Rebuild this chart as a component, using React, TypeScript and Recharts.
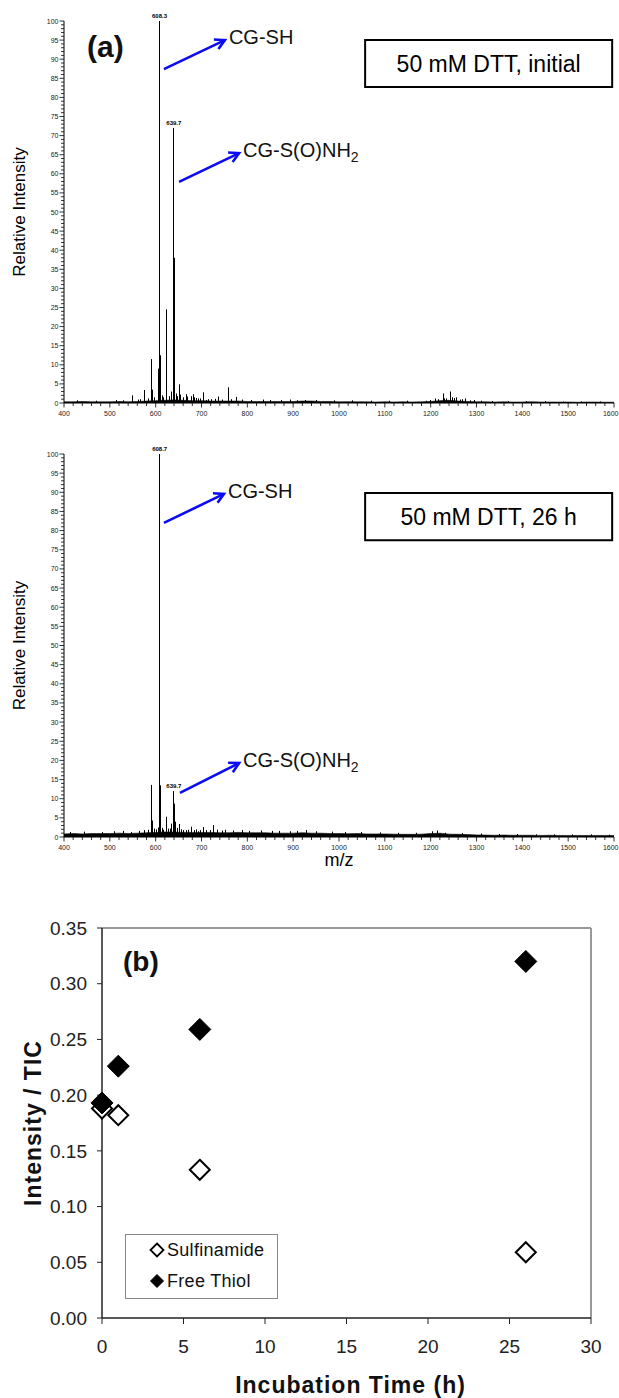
import React from "react";
import {
  ComposedChart,
  Bar,
  Area,
  XAxis,
  YAxis,
  ReferenceLine,
  ReferenceArea,
  LabelList,
  ScatterChart,
  Scatter,
  Legend,
} from "recharts";

const FONT = "Arial, 'Liberation Sans', sans-serif";

// ---- spectra (panel a) ----
const mzTickLabels = [400, 500, 600, 700, 800, 900, 1000, 1100, 1200, 1300, 1400, 1500, 1600];
const mzTicks = Array.from({ length: 61 }, (_, i) => 400 + i * 20);
const intensityTickLabels = [0, 5, 10, 15, 20, 25, 30, 35, 40, 45, 50, 55, 60, 65, 70, 75, 80, 85, 90, 95, 100];
const intensityTicks = Array.from({ length: 101 }, (_, i) => i);

// baseline noise, [m/z, relative intensity]
const initialBaseline: [number, number][] = [
  [400, 0.3], [420, 0.3], [440, 0.4], [460, 0.3], [480, 0.3], [500, 0.3], [520, 0.4], [540, 0.3],
  [560, 0.4], [580, 0.5], [600, 0.6], [620, 0.7], [640, 0.8], [660, 0.7], [680, 0.6], [700, 0.6],
  [720, 0.5], [740, 0.5], [760, 0.5], [780, 0.5], [800, 0.4], [820, 0.4], [840, 0.4], [860, 0.4],
  [880, 0.4], [900, 0.4], [920, 0.5], [940, 0.5], [960, 0.4], [980, 0.4], [1000, 0.3], [1020, 0.35],
  [1040, 0.3], [1060, 0.3], [1080, 0.25], [1100, 0.3], [1120, 0.25], [1140, 0.3], [1160, 0.25], [1180, 0.3],
  [1200, 0.4], [1220, 0.6], [1240, 0.7], [1260, 0.5], [1280, 0.4], [1300, 0.3], [1320, 0.3], [1340, 0.25],
  [1360, 0.3], [1380, 0.25], [1400, 0.25], [1420, 0.3], [1440, 0.25], [1460, 0.25], [1480, 0.25], [1500, 0.25],
  [1520, 0.2], [1540, 0.25], [1560, 0.25], [1580, 0.2], [1600, 0.2],
];
const initialPeaks: [number, number][] = [
  [430, 0.7], [470, 0.6], [515, 0.8], [530, 0.7], [550, 2.0], [563, 0.9], [568, 1.0], [575, 3.4],
  [584, 1.2], [591.3, 11.5], [592.7, 3.5], [597, 1.5], [605.8, 9.0], [608.3, 100], [610.3, 12.5],
  [614, 2.0], [618, 1.5], [623.3, 24.5], [624.7, 3.0], [630, 1.8], [635, 3.0], [639.7, 72],
  [640.7, 38], [641.7, 17.5], [646, 2.5], [648, 1.8], [651.6, 4.9], [654.6, 2.2], [660.4, 1.5],
  [666.2, 2.3], [669.9, 1.7], [678.6, 1.8], [682.2, 2.3], [685.8, 1.5], [690, 1.3], [693, 1.2],
  [698, 1.2], [704, 2.8], [711.3, 0.8], [715, 1.0], [722.2, 1.0], [730, 1.1], [736.7, 1.7],
  [745, 0.9], [758.5, 4.1], [765, 1.0], [775.3, 1.6], [790, 0.9], [810, 0.8], [835, 0.9],
  [850, 0.8], [875, 0.8], [895, 0.9], [910, 0.7], [927, 0.8], [950, 0.8], [990, 0.7], [1030, 0.7],
  [1070, 0.6], [1110, 0.6], [1150, 0.6], [1190, 0.6], [1198.6, 0.8], [1209.5, 1.2], [1216.8, 1.0],
  [1227.6, 2.5], [1230, 1.2], [1235, 1.2], [1242.9, 3.0], [1246.6, 1.5], [1252, 1.3], [1256.8, 1.5],
  [1265, 0.9], [1270, 1.0], [1275, 1.2], [1285.9, 0.7], [1295, 0.8], [1310, 0.6], [1335, 0.5],
  [1370, 0.5], [1410, 0.5], [1450, 0.5], [1490, 0.4], [1530, 0.4], [1570, 0.4],
];
const initialTags: [number, string][] = [[608.3, "608.3"], [639.7, "639.7"]];

const dtt26hBaseline: [number, number][] = [
  [400, 0.8], [420, 0.9], [440, 0.8], [460, 0.9], [480, 0.9], [500, 0.9], [520, 1.0], [540, 0.9],
  [560, 1.0], [580, 1.1], [600, 1.2], [620, 1.3], [640, 1.3], [660, 1.2], [680, 1.2], [700, 1.2],
  [720, 1.2], [740, 1.1], [760, 1.1], [780, 1.2], [800, 1.1], [820, 1.1], [840, 1.1], [860, 1.0],
  [880, 1.0], [900, 1.0], [920, 1.1], [940, 1.0], [960, 1.0], [980, 0.9], [1000, 0.9], [1020, 0.85],
  [1040, 0.9], [1060, 0.8], [1080, 0.8], [1100, 0.8], [1120, 0.75], [1140, 0.7], [1160, 0.7], [1180, 0.75],
  [1200, 0.9], [1220, 1.0], [1240, 0.75], [1260, 0.7], [1280, 0.65], [1300, 0.55], [1320, 0.5], [1340, 0.45],
  [1360, 0.5], [1380, 0.45], [1400, 0.45], [1420, 0.45], [1440, 0.4], [1460, 0.45], [1480, 0.4], [1500, 0.4],
  [1520, 0.4], [1540, 0.4], [1560, 0.4], [1580, 0.4], [1600, 0.4],
];
const dtt26hPeaks: [number, number][] = [
  [415, 1.3], [445, 1.4], [485, 1.3], [510, 1.5], [529, 1.6], [547.7, 1.3], [565, 1.6], [575, 1.8],
  [585, 1.9], [591.3, 13.6], [592.7, 4.3], [598, 2.2], [602, 2.0], [606.5, 2.5], [608.7, 100],
  [610.2, 13.5], [615, 2.4], [618, 1.9], [622.6, 5.3], [628.4, 2.2], [632, 2.2], [635, 3.5],
  [639.7, 12.0], [640.8, 8.7], [642.5, 4.0], [647, 2.4], [651.6, 3.4], [656, 2.0], [660.4, 1.8],
  [667.7, 1.8], [672, 1.9], [678.6, 2.7], [685.8, 1.8], [690, 2.0], [693, 1.5], [698, 1.8],
  [704, 2.6], [711, 1.8], [718.6, 1.8], [725.8, 3.1], [735, 1.9], [745, 1.7], [752, 1.9], [770, 1.7],
  [790, 1.8], [805, 1.6], [830, 1.7], [855, 1.6], [870, 1.6], [895, 1.5], [910, 1.6], [929, 1.8],
  [950, 1.5], [985, 1.4], [1015, 1.3], [1050, 1.3], [1090, 1.2], [1130, 1.1], [1170, 1.1],
  [1205, 1.5], [1216, 1.7], [1232, 1.1], [1270, 1.0], [1310, 0.9], [1350, 0.8], [1390, 0.8],
  [1430, 0.7], [1470, 0.7], [1510, 0.7], [1550, 0.7], [1590, 0.6],
];
const dtt26hTags: [number, string][] = [[608.7, "608.7"], [639.7, "639.7"]];

// annotation arrows (data coordinates) and condition boxes
const initialArrows = [
  { x1: 618, y1: 87.4, x2: 751, y2: 95.0, text: "CG-SH", sub: "" },
  { x1: 651, y1: 57.9, x2: 782, y2: 65.4, text: "CG-S(O)NH", sub: "2" },
];
const dtt26hArrows = [
  { x1: 618, y1: 82.0, x2: 749, y2: 89.6, text: "CG-SH", sub: "" },
  { x1: 653, y1: 11.5, x2: 782, y2: 19.3, text: "CG-S(O)NH", sub: "2" },
];
const initialBox = { x1: 1057, x2: 1596, y1: 82.7, y2: 95.0, text: "50 mM DTT, initial" };
const dtt26hBox = { x1: 1057, x2: 1596, y1: 77.5, y2: 89.8, text: "50 mM DTT, 26 h" };

// ---- panel b ----
const hours = [0, 1, 6, 26];
const sulfinamide = [0.188, 0.182, 0.133, 0.059];
const freeThiol = [0.193, 0.226, 0.259, 0.32];
const hourTicks = [0, 5, 10, 15, 20, 25, 30];
const ratioTicks = [0, 0.05, 0.1, 0.15, 0.2, 0.25, 0.3, 0.35];
const legendOrder = ["Sulfinamide", "Free Thiol"];

type Row = { mz: number; base?: number; peak?: number; tag?: string };
const buildSpectrum = (baseline: [number, number][], peaks: [number, number][], tags: [number, string][]) => {
  const rows: Row[] = [
    ...baseline.map(([mz, v]) => ({ mz, base: v })),
    ...peaks.map(([mz, v]) => ({ mz, peak: v, tag: tags.find((t) => t[0] === mz)?.[1] })),
  ];
  return rows.sort((a, b) => a.mz - b.mz);
};

const MzTick = (p: any) => {
  const v = p.payload.value;
  const major = mzTickLabels.includes(v);
  const last = v === 1600;
  return (
    <g>
      <line x1={p.x} x2={p.x} y1={p.y} y2={p.y + (major ? 4.5 : 3)} stroke="#000" strokeWidth={0.8} />
      {major && (
        <text x={last ? p.x + 4.5 : p.x} y={p.y + 12.5} textAnchor={last ? "end" : "middle"} fontSize={7} fontFamily={FONT} fill="#222">
          {v}
        </text>
      )}
    </g>
  );
};

const IntensityTick = (p: any) => {
  const v = p.payload.value;
  const major = intensityTickLabels.includes(v);
  return (
    <g>
      <line x1={p.x - (major ? 4.5 : 3)} x2={p.x} y1={p.y} y2={p.y} stroke="#000" strokeWidth={0.8} />
      {major && (
        <text x={p.x - 5.5} y={p.y + 2.5} textAnchor="end" fontSize={7} fontFamily={FONT} fill="#222">
          {v}
        </text>
      )}
    </g>
  );
};

// crisp 1px stick for each peak
const Stick = (p: any) => {
  if (p.payload?.peak == null || !(p.height > 0)) return <g />;
  const cx = Math.floor(p.x + p.width / 2);
  return <rect x={cx} y={p.y} width={1} height={p.height} fill="#000" />;
};

const arrowShape = (text: string, sub: string) => (p: any) => {
  const { x1, y1, x2, y2 } = p;
  const ang = Math.atan2(y2 - y1, x2 - x1);
  const L = 11;
  const s = 0.5;
  const hx1 = x2 - L * Math.cos(ang - s);
  const hy1 = y2 - L * Math.sin(ang - s);
  const hx2 = x2 - L * Math.cos(ang + s);
  const hy2 = y2 - L * Math.sin(ang + s);
  return (
    <g>
      <line x1={x1} y1={y1} x2={x2} y2={y2} stroke="#0a0af5" strokeWidth={2.6} />
      <polyline points={`${hx1},${hy1} ${x2},${y2} ${hx2},${hy2}`} fill="none" stroke="#0a0af5" strokeWidth={2.6} />
      <text x={x2 + 4} y={y2 + 4} fontSize={20} fontFamily={FONT} fill="#111">
        {text}
        {sub && (
          <tspan dy={5} fontSize={14}>
            {sub}
          </tspan>
        )}
      </text>
    </g>
  );
};

const Spectrum = ({ data, arrows, box, height, showMz }: any) => (
  <ComposedChart width={619} height={height} data={data} margin={{ top: 21, right: 5, bottom: 0, left: 0 }}>
    <XAxis
      type="number"
      dataKey="mz"
      domain={[400, 1600]}
      ticks={mzTicks}
      interval={0}
      tickSize={0}
      tickMargin={0}
      tickLine={false}
      tick={(p: any) => <MzTick {...p} />}
      axisLine={{ stroke: "#000" }}
      height={showMz ? 40 : 22}
      allowDataOverflow
      label={showMz ? { value: "m/z", position: "insideBottom", offset: 11, fontSize: 18, fill: "#000", fontFamily: FONT } : undefined}
    />
    <YAxis
      type="number"
      domain={[0, 100]}
      ticks={intensityTicks}
      interval={0}
      width={64}
      tickSize={0}
      tickMargin={0}
      tickLine={false}
      tick={(p: any) => <IntensityTick {...p} />}
      axisLine={{ stroke: "#000" }}
      allowDataOverflow
      label={{
        value: "Relative Intensity",
        angle: -90,
        position: "insideLeft",
        offset: 19,
        fontSize: 17,
        fill: "#000",
        fontFamily: FONT,
        style: { textAnchor: "middle" },
      }}
    />
    <Area
      dataKey="base"
      type="linear"
      stroke="#000"
      strokeWidth={0.6}
      fill="#000"
      fillOpacity={1}
      connectNulls
      dot={false}
      activeDot={false}
      isAnimationActive={false}
    />
    <Bar dataKey="peak" barSize={1} fill="#000" shape={(p: any) => <Stick {...p} />} isAnimationActive={false}>
      <LabelList dataKey="tag" position="top" offset={3} fontSize={6} fontWeight="bold" fill="#000" fontFamily={FONT} />
    </Bar>
    <ReferenceArea
      x1={box.x1}
      x2={box.x2}
      y1={box.y1}
      y2={box.y2}
      stroke="#000"
      strokeWidth={2}
      fill="#fff"
      fillOpacity={1}
      label={{ value: box.text, position: "center", fontSize: 23, fill: "#000", fontFamily: FONT }}
    />
    {arrows.map((a: any) => (
      <ReferenceLine
        key={a.text + a.y1}
        segment={[
          { x: a.x1, y: a.y1 },
          { x: a.x2, y: a.y2 },
        ]}
        shape={arrowShape(a.text, a.sub)}
      />
    ))}
  </ComposedChart>
);

const diamond = (filled: boolean, r: number) => (p: any) => {
  const { cx, cy } = p;
  return (
    <polygon
      points={`${cx},${cy - r} ${cx + r},${cy} ${cx},${cy + r} ${cx - r},${cy}`}
      fill={filled ? "#000" : "#fff"}
      stroke="#000"
      strokeWidth={filled ? 1 : 2}
    />
  );
};

const seriesFilled: Record<string, boolean> = { Sulfinamide: false, "Free Thiol": true };

const LegendBox = (props: any) => {
  const items = [...(props.payload || [])].sort(
    (a: any, b: any) => legendOrder.indexOf(a.value) - legendOrder.indexOf(b.value)
  );
  return (
    <div
      style={{
        width: 153,
        height: 65,
        border: "1px solid #888",
        boxSizing: "border-box",
        background: "#fff",
        position: "relative",
        fontFamily: FONT,
        fontSize: 18,
        color: "#111",
      }}
    >
      {items.map((e: any, i: number) => {
        const filled = seriesFilled[e.value];
        return (
          <div key={e.value} style={{ position: "absolute", left: 23, top: 4 + i * 31, height: 22, display: "flex", alignItems: "center" }}>
            <svg width={16} height={16}>
              <polygon points="8,1.5 14.5,8 8,14.5 1.5,8" fill={filled ? "#000" : "#fff"} stroke="#000" strokeWidth={filled ? 1 : 1.8} />
            </svg>
            <span style={{ marginLeft: 2, letterSpacing: 0.3 }}>{e.value}</span>
          </div>
        );
      })}
    </div>
  );
};

const initialData = buildSpectrum(initialBaseline, initialPeaks, initialTags);
const dtt26hData = buildSpectrum(dtt26hBaseline, dtt26hPeaks, dtt26hTags);
const sulfData = hours.map((h, i) => ({ h, v: sulfinamide[i] }));
const thiolData = hours.map((h, i) => ({ h, v: freeThiol[i] }));

const App = () => (
  <div style={{ position: "absolute", left: 0, top: 0, width: 619, height: 1398, background: "#fff", overflow: "hidden", fontFamily: FONT }}>
    <div style={{ position: "absolute", left: 0, top: 0 }}>
      <Spectrum data={initialData} arrows={initialArrows} box={initialBox} height={425} showMz={false} />
    </div>
    <div style={{ position: "absolute", left: 0, top: 433 }}>
      <Spectrum data={dtt26hData} arrows={dtt26hArrows} box={dtt26hBox} height={444} showMz />
    </div>
    <div style={{ position: "absolute", left: 87, top: 32, fontSize: 30, lineHeight: "30px", fontWeight: "bold", color: "#111" }}>(a)</div>

    <div style={{ position: "absolute", left: 0, top: 900 }}>
      <ScatterChart width={619} height={498} margin={{ top: 28, right: 28, bottom: 0, left: 0 }}>
        <XAxis
          type="number"
          dataKey="h"
          domain={[0, 30]}
          ticks={hourTicks}
          interval={0}
          tickSize={6}
          tickMargin={16}
          height={80}
          axisLine={{ stroke: "#222", strokeWidth: 1.5 }}
          tickLine={{ stroke: "#222" }}
          tick={{ fontSize: 19, fill: "#222", fontFamily: FONT }}
          label={{
            value: "Incubation Time (h)",
            position: "insideBottom",
            offset: 5,
            dx: 4,
            fontSize: 23,
            fontWeight: "bold",
            letterSpacing: 1,
            fill: "#111",
            fontFamily: FONT,
          }}
        />
        <YAxis
          type="number"
          dataKey="v"
          domain={[0, 0.35]}
          ticks={ratioTicks}
          interval={0}
          width={102}
          tickSize={5}
          tickMargin={10}
          tickFormatter={(v: number) => v.toFixed(2)}
          axisLine={{ stroke: "#222", strokeWidth: 1.5 }}
          tickLine={{ stroke: "#222" }}
          tick={{ fontSize: 19, fill: "#222", fontFamily: FONT }}
          label={{
            value: "Intensity / TIC",
            angle: -90,
            position: "insideLeft",
            offset: 33,
            fontSize: 23,
            fontWeight: "bold",
            letterSpacing: 1,
            fill: "#111",
            fontFamily: FONT,
            style: { textAnchor: "middle" },
          }}
        />
        <ReferenceLine y={0.35} stroke="#999" strokeWidth={2} />
        <ReferenceLine x={30} stroke="#999" strokeWidth={2} />
        <Scatter name="Sulfinamide" data={sulfData} shape={diamond(false, 10)} isAnimationActive={false} />
        <Scatter name="Free Thiol" data={thiolData} shape={diamond(true, 11)} isAnimationActive={false} />
        <Legend
          layout="vertical"
          align="center"
          verticalAlign="middle"
          wrapperStyle={{ left: 125, top: 334, width: 153, height: 65 }}
          content={(p: any) => <LegendBox {...p} />}
        />
      </ScatterChart>
    </div>
    <div style={{ position: "absolute", left: 123, top: 948, fontSize: 28, lineHeight: "28px", fontWeight: "bold", color: "#111" }}>(b)</div>
  </div>
);

export default App;
